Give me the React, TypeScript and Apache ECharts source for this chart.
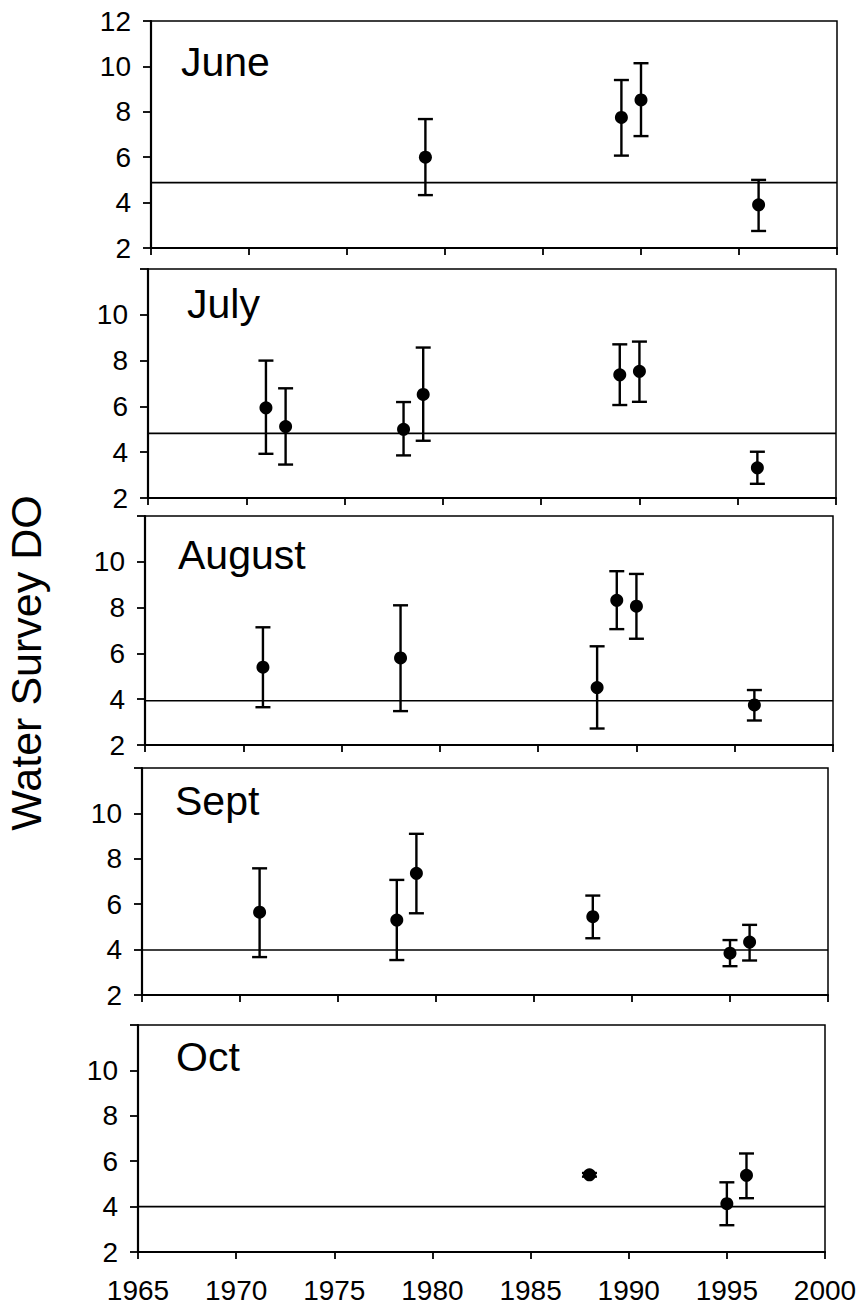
import React, { useEffect, useRef } from "react";
import * as echarts from "echarts";

// ---- Data ----
const months = ["June", "July", "August", "Sept", "Oct"];

const juneYears = [1979, 1989, 1990, 1996];
const juneMean = [6.0, 7.75, 8.52, 3.9];
const juneLow = [4.33, 6.07, 6.93, 2.75];
const juneHigh = [7.68, 9.4, 10.14, 5.0];

const julyYears = [1971, 1972, 1978, 1979, 1989, 1990, 1996];
const julyMean = [5.94, 5.12, 5.0, 6.52, 7.38, 7.53, 3.32];
const julyLow = [3.93, 3.46, 3.86, 4.5, 6.06, 6.2, 2.62];
const julyHigh = [8.0, 6.79, 6.19, 8.57, 8.71, 8.83, 4.02];

const augYears = [1971, 1978, 1988, 1989, 1990, 1996];
const augMean = [5.4, 5.8, 4.51, 8.32, 8.06, 3.75];
const augLow = [3.65, 3.48, 2.72, 7.06, 6.64, 3.07];
const augHigh = [7.14, 8.1, 6.31, 9.59, 9.47, 4.4];

const septYears = [1971, 1978, 1979, 1988, 1995, 1996];
const septMean = [5.65, 5.3, 7.36, 5.45, 3.84, 4.33];
const septLow = [3.67, 3.54, 5.6, 4.5, 3.27, 3.52];
const septHigh = [7.58, 7.07, 9.1, 6.38, 4.42, 5.09];

const octYears = [1988, 1995, 1996];
const octMean = [5.4, 4.13, 5.38];
const octLow = [5.32, 3.18, 4.37];
const octHigh = [5.48, 5.07, 6.34];

const refLevels = [4.88, 4.82, 3.93, 3.98, 4.0];
const xRange = [1965, 2000];
const yRange = [2, 12];
const xTickStep = 5;
const yTickStep = 2;

const panels = [
  { years: juneYears, mean: juneMean, low: juneLow, high: juneHigh },
  { years: julyYears, mean: julyMean, low: julyLow, high: julyHigh },
  { years: augYears, mean: augMean, low: augLow, high: augHigh },
  { years: septYears, mean: septMean, low: septLow, high: septHigh },
  { years: octYears, mean: octMean, low: octLow, high: octHigh },
];

// ---- Layout ----
const gridBoxes = [
  { left: 151, top: 21, width: 686, height: 227 },
  { left: 148, top: 269, width: 688, height: 229 },
  { left: 145, top: 516, width: 688, height: 229 },
  { left: 142, top: 768, width: 686, height: 227 },
  { left: 138, top: 1025, width: 687, height: 227 },
];
const monthLabelPos = [
  { x: 181, y: 62 },
  { x: 187, y: 304 },
  { x: 178, y: 555 },
  { x: 175, y: 801 },
  { x: 176, y: 1057 },
];

const FONT = "'Liberation Sans', Arial, Helvetica, sans-serif";

export default function App() {
  const ref = useRef<HTMLDivElement>(null);

  useEffect(() => {
    if (!ref.current) return;
    const chart = echarts.init(ref.current, undefined, { renderer: "svg" });

    const grid = gridBoxes.map((g) => ({
      left: g.left,
      top: g.top,
      width: g.width,
      height: g.height,
      show: true,
      borderColor: "#000",
      borderWidth: 1.5,
      backgroundColor: "#fff",
    }));

    const xAxis = panels.map((_, i) => ({
      type: "value",
      gridIndex: i,
      min: xRange[0],
      max: xRange[1],
      interval: xTickStep,
      axisLine: { show: true, onZero: false, lineStyle: { color: "#000", width: 2.2 } },
      axisTick: { show: true, length: 7, inside: false, lineStyle: { color: "#000", width: 1.8 } },
      axisLabel: {
        show: i === panels.length - 1,
        fontSize: 28,
        color: "#000",
        fontFamily: FONT,
        margin: 24,
        formatter: (v: number) => String(v),
      },
      splitLine: { show: false },
    }));

    const yAxis = panels.map((_, i) => ({
      type: "value",
      gridIndex: i,
      min: yRange[0],
      max: yRange[1],
      interval: yTickStep,
      axisLine: { show: true, onZero: false, lineStyle: { color: "#000", width: 2.2 } },
      axisTick: { show: true, length: 8, lineStyle: { color: "#000", width: 1.8 } },
      axisLabel: {
        fontSize: 28,
        color: "#000",
        fontFamily: FONT,
        margin: 20,
        formatter: (v: number) => (i > 0 && v === yRange[1] ? "" : String(v)),
      },
      splitLine: { show: false },
    }));

    const series: any[] = [];
    panels.forEach((p, i) => {
      series.push({
        type: "line",
        xAxisIndex: i,
        yAxisIndex: i,
        data: [
          [xRange[0], refLevels[i]],
          [xRange[1], refLevels[i]],
        ],
        symbol: "none",
        lineStyle: { color: "#000", width: 1.6 },
        silent: true,
        z: 2,
      });
      series.push({
        type: "custom",
        xAxisIndex: i,
        yAxisIndex: i,
        data: p.years.map((y, k) => [y, p.low[k], p.high[k]]),
        encode: { x: 0, y: [1, 2] },
        renderItem: (params: any, api: any) => {
          const x = api.value(0);
          const lo = api.coord([x, api.value(1)]);
          const hi = api.coord([x, api.value(2)]);
          const hw = 7.5;
          const style = { stroke: "#000", lineWidth: 2.4 };
          return {
            type: "group",
            children: [
              { type: "line", shape: { x1: lo[0], y1: lo[1], x2: hi[0], y2: hi[1] }, style },
              { type: "line", shape: { x1: lo[0] - hw, y1: lo[1], x2: lo[0] + hw, y2: lo[1] }, style },
              { type: "line", shape: { x1: hi[0] - hw, y1: hi[1], x2: hi[0] + hw, y2: hi[1] }, style },
            ],
          };
        },
        z: 3,
      });
      series.push({
        type: "scatter",
        xAxisIndex: i,
        yAxisIndex: i,
        data: p.years.map((y, k) => [y, p.mean[k]]),
        symbol: "circle",
        symbolSize: 13,
        itemStyle: { color: "#000", opacity: 1 },
        z: 4,
      });
    });

    const graphic: any[] = months.map((m, i) => ({
      type: "text",
      x: monthLabelPos[i].x,
      y: monthLabelPos[i].y,
      z: 10,
      style: {
        text: m,
        fontSize: 41,
        fontFamily: FONT,
        fill: "#000",
        align: "left",
        verticalAlign: "middle",
      },
    }));
    graphic.push({
      type: "text",
      x: 26,
      y: 663,
      rotation: Math.PI / 2,
      z: 10,
      style: {
        text: "Water Survey DO",
        fontSize: 43,
        fontFamily: FONT,
        fill: "#000",
        align: "center",
        verticalAlign: "middle",
      },
    });

    chart.setOption({
      animation: false,
      backgroundColor: "#fff",
      grid,
      xAxis,
      yAxis,
      series,
      graphic,
    });

    return () => chart.dispose();
  }, []);

  return (
    <div
      ref={ref}
      style={{ position: "absolute", left: 0, top: 0, width: 860, height: 1311, background: "#fff" }}
    />
  );
}
